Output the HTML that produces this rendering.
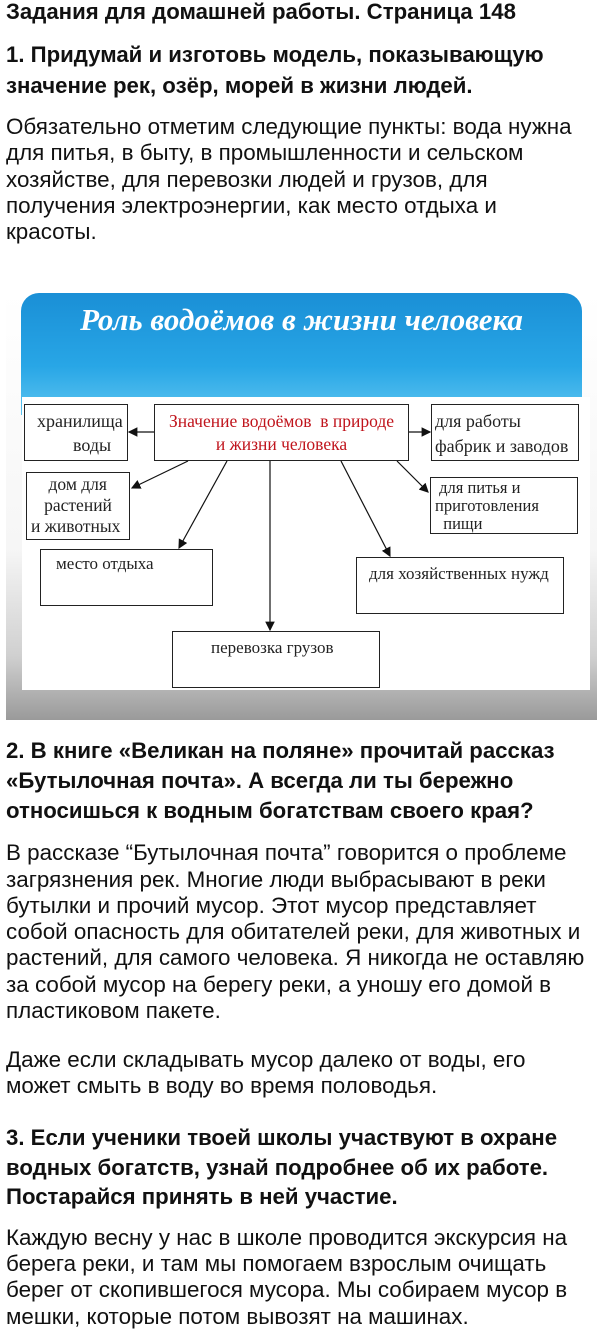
<!DOCTYPE html>
<html><head><meta charset="utf-8"><style>
body{margin:0;width:600px;height:1331px;background:#fff;position:relative;overflow:hidden;font-family:"Liberation Sans",Arial,sans-serif;color:#111}
.l{position:absolute;left:6px;white-space:nowrap;font-size:22.4px;line-height:24px}
.b{font-weight:bold;font-size:22.2px}
.box{position:absolute;border:1.5px solid #222;background:#fff;font-family:"Liberation Serif",serif;font-size:17px;color:#222;box-sizing:border-box;line-height:20px;white-space:nowrap;overflow:visible}
</style></head><body>
<div class="l b" style="top:0px">Задания для домашней работы. Страница 148</div>
<div class="l b" style="top:43px">1. Придумай и изготовь модель, показывающую</div>
<div class="l b" style="top:74px">значение рек, озёр, морей в жизни людей.</div>
<div class="l" style="top:115px">Обязательно отметим следующие пункты: вода нужна</div>
<div class="l" style="top:141px">для питья, в быту, в промышленности и сельском</div>
<div class="l" style="top:168px">хозяйстве, для перевозки людей и грузов, для</div>
<div class="l" style="top:194px">получения электроэнергии, как место отдыха и</div>
<div class="l" style="top:220px">красоты.</div>

<div style="position:absolute;left:6px;top:292px;width:591px;height:428px;background:linear-gradient(#fff 0%,#f6f6f6 60%,#d0d0d0 85%,#9a9a9a 100%)"></div>
<div style="position:absolute;left:21px;top:293px;width:561px;height:122px;border-radius:18px 18px 0 0;background:linear-gradient(#1a8fd6,#28a6e6 60%,#5cc4f0)"></div>
<div style="position:absolute;left:22px;top:397px;width:568px;height:293px;background:#fff"></div>
<div style="position:absolute;left:21px;top:302px;width:561px;text-align:center;font-family:'Liberation Serif',serif;font-style:italic;font-weight:bold;font-size:31px;color:#fff">Роль водоёмов в жизни человека</div>

<div class="box" style="left:24px;top:404px;width:104px;height:57px;padding:4px 0 0 12px;font-size:18px;line-height:24px">хранилища<br><span style="padding-left:36px">воды</span></div>
<div class="box" style="left:154px;top:404px;width:255px;height:57px;color:#c0141c;text-align:center;padding-top:5px;font-size:17.5px;line-height:23px">Значение водоёмов&nbsp; в природе<br>и жизни человека</div>
<div class="box" style="left:431px;top:404px;width:148px;height:57px;padding:4px 0 0 3px;font-size:18px;line-height:25px">для работы<br>фабрик и заводов</div>
<div class="box" style="left:26px;top:472px;width:104px;height:68px;padding:1px 0 0 4px;font-size:17.5px;line-height:21px">&nbsp;&nbsp;&nbsp;&nbsp;дом для<br>&nbsp;&nbsp;&nbsp;растений<br>и животных</div>
<div class="box" style="left:430px;top:477px;width:148px;height:57px;padding:1px 0 0 4px;font-size:16.5px;line-height:18px">&nbsp;для питья и<br>приготовления<br>&nbsp;&nbsp;пищи</div>
<div class="box" style="left:40px;top:549px;width:173px;height:57px;padding:4px 0 0 15px">место отдыха</div>
<div class="box" style="left:356px;top:557px;width:208px;height:57px;padding:6px 0 0 12px">для хозяйственных нужд</div>
<div class="box" style="left:172px;top:631px;width:208px;height:57px;padding:6px 0 0 38px">перевозка грузов</div>

<svg style="position:absolute;left:0;top:0" width="600" height="1331">
<defs><marker id="a" markerWidth="8" markerHeight="8" refX="7" refY="4" orient="auto"><path d="M0,0 L8,4 L0,8z" fill="#111"/></marker></defs>
<g stroke="#111" stroke-width="1.2" marker-end="url(#a)">
<line x1="154" y1="432" x2="129" y2="432"/>
<line x1="409" y1="432" x2="430" y2="432"/>
<line x1="188" y1="461" x2="132" y2="488"/>
<line x1="227" y1="461" x2="179" y2="548"/>
<line x1="270" y1="461" x2="270" y2="630"/>
<line x1="341" y1="461" x2="390" y2="556"/>
<line x1="397" y1="461" x2="428" y2="492"/>
</g></svg>

<div class="l b" style="top:739px">2. В книге «Великан на поляне» прочитай рассказ</div>
<div class="l b" style="top:769px">«Бутылочная почта». А всегда ли ты бережно</div>
<div class="l b" style="top:799px">относишься к водным богатствам своего края?</div>
<div class="l" style="top:841px">В рассказе “Бутылочная почта” говорится о проблеме</div>
<div class="l" style="top:868px">загрязнения рек. Многие люди выбрасывают в реки</div>
<div class="l" style="top:894px">бутылки и прочий мусор. Этот мусор представляет</div>
<div class="l" style="top:920px">собой опасность для обитателей реки, для животных и</div>
<div class="l" style="top:946px">растений, для самого человека. Я никогда не оставляю</div>
<div class="l" style="top:973px">за собой мусор на берегу реки, а уношу его домой в</div>
<div class="l" style="top:999px">пластиковом пакете.</div>
<div class="l" style="top:1048px">Даже если складывать мусор далеко от воды, его</div>
<div class="l" style="top:1074px">может смыть в воду во время половодья.</div>
<div class="l b" style="top:1126px">3. Если ученики твоей школы участвуют в охране</div>
<div class="l b" style="top:1156px">водных богатств, узнай подробнее об их работе.</div>
<div class="l b" style="top:1185px">Постарайся принять в ней участие.</div>
<div class="l" style="top:1226px">Каждую весну у нас в школе проводится экскурсия на</div>
<div class="l" style="top:1252px">берега реки, и там мы помогаем взрослым очищать</div>
<div class="l" style="top:1278px">берег от скопившегося мусора. Мы собираем мусор в</div>
<div class="l" style="top:1305px">мешки, которые потом вывозят на машинах.</div>
</body></html>
